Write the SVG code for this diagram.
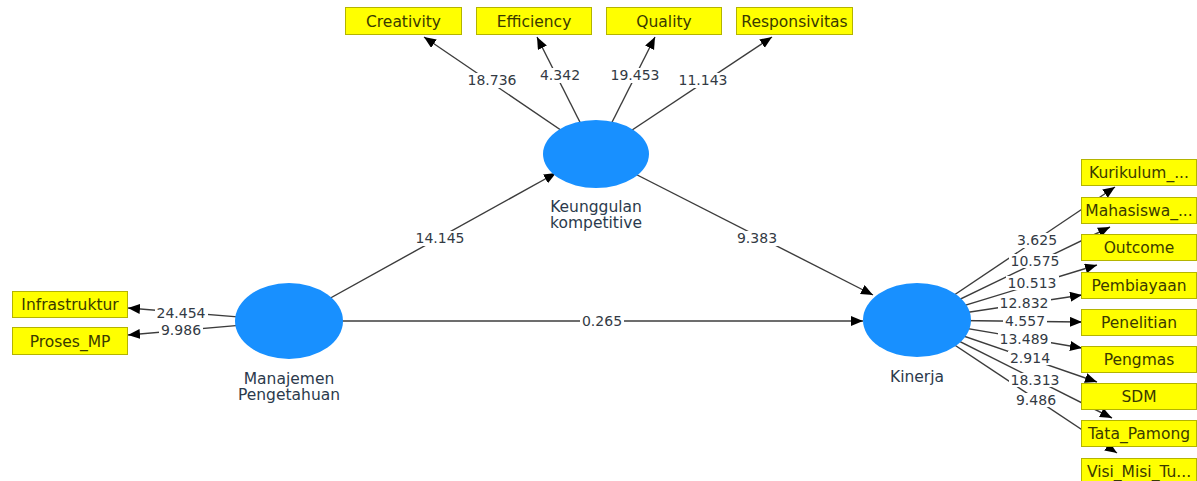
<svg xmlns="http://www.w3.org/2000/svg" width="1197" height="481" viewBox="0 0 1197 481">
<defs>
<marker id="ah" markerUnits="userSpaceOnUse" markerWidth="13" markerHeight="11" refX="12" refY="5" orient="auto">
<path d="M0,0 L12,5 L0,10 z" fill="#000"/>
</marker>
<style>
.c line{stroke:#3c3c3c;stroke-width:1.4;marker-end:url(#ah);}
.box{fill:#ffff00;stroke:#b4b400;stroke-width:1;}
.bt{font-family:"DejaVu Sans",sans-serif;font-size:15.5px;fill:#3a3a00;text-anchor:middle;}
.lv{fill:#1890ff;}
.nl{font-family:"DejaVu Sans",sans-serif;font-size:15.5px;fill:#2b3a4c;text-anchor:middle;}
.num{font-family:"DejaVu Sans",sans-serif;font-size:14px;fill:#333a44;text-anchor:middle;}
.bg{fill:#fff;}
</style>
</defs>
<rect width="1197" height="481" fill="#fff"/>
<g id="connectors" class="c">
<line x1="596" y1="154" x2="424" y2="37"/>
<line x1="596" y1="154" x2="537" y2="37"/>
<line x1="596" y1="154" x2="655" y2="37"/>
<line x1="596" y1="154" x2="772" y2="37"/>
<line x1="289" y1="321" x2="128" y2="308"/>
<line x1="289" y1="321" x2="128" y2="335"/>
<line x1="289" y1="321" x2="556" y2="173"/>
<line x1="596" y1="154" x2="873" y2="295"/>
<line x1="289" y1="321" x2="863" y2="321"/>
<line x1="917" y1="320" x2="1115" y2="187"/>
<line x1="917" y1="320" x2="1110" y2="227"/>
<line x1="917" y1="320" x2="1097" y2="265"/>
<line x1="917" y1="320" x2="1082" y2="295"/>
<line x1="917" y1="320" x2="1082" y2="322"/>
<line x1="917" y1="320" x2="1082" y2="348"/>
<line x1="917" y1="320" x2="1097" y2="382"/>
<line x1="917" y1="320" x2="1112" y2="418"/>
<line x1="917" y1="320" x2="1117" y2="453"/>
</g>
<g id="connector-labels">
<rect class="bg" x="466" y="73" width="53" height="15"/><text class="num" x="492" y="85">18.736</text>
<rect class="bg" x="538" y="68" width="44" height="15"/><text class="num" x="560" y="80">4.342</text>
<rect class="bg" x="609" y="68" width="53" height="15"/><text class="num" x="635" y="80">19.453</text>
<rect class="bg" x="677" y="73" width="53" height="15"/><text class="num" x="703" y="85">11.143</text>
<rect class="bg" x="155" y="306" width="53" height="14"/><text class="num" x="181" y="318">24.454</text>
<rect class="bg" x="159" y="322" width="44" height="15"/><text class="num" x="181" y="335">9.986</text>
<rect class="bg" x="414" y="231" width="53" height="15"/><text class="num" x="440" y="243">14.145</text>
<rect class="bg" x="735" y="231" width="44" height="15"/><text class="num" x="757" y="243">9.383</text>
<rect class="bg" x="580" y="314" width="44" height="15"/><text class="num" x="602" y="326">0.265</text>
<rect class="bg" x="1015" y="233" width="44" height="15"/><text class="num" x="1037" y="245">3.625</text>
<rect class="bg" x="1009" y="254" width="53" height="14"/><text class="num" x="1035" y="266">10.575</text>
<rect class="bg" x="1006" y="276" width="53" height="14"/><text class="num" x="1032" y="288">10.513</text>
<rect class="bg" x="998" y="296" width="53" height="14"/><text class="num" x="1024" y="308">12.832</text>
<rect class="bg" x="1003" y="314" width="44" height="14"/><text class="num" x="1025" y="326">4.557</text>
<rect class="bg" x="998" y="332" width="53" height="14"/><text class="num" x="1024" y="344">13.489</text>
<rect class="bg" x="1008" y="351" width="44" height="14"/><text class="num" x="1030" y="363">2.914</text>
<rect class="bg" x="1009" y="373" width="53" height="14"/><text class="num" x="1035" y="385">18.313</text>
<rect class="bg" x="1014" y="393" width="44" height="14"/><text class="num" x="1036" y="405">9.486</text>
</g>
<g id="keunggulan"><ellipse class="lv" cx="596" cy="154" rx="53" ry="34"/><text class="nl" x="596" y="212">Keunggulan</text><text class="nl" x="596" y="228">kompetitive</text></g>
<g id="manajemen"><ellipse class="lv" cx="289" cy="321" rx="54" ry="38"/><text class="nl" x="289" y="384">Manajemen</text><text class="nl" x="289" y="400">Pengetahuan</text></g>
<g id="kinerja"><ellipse class="lv" cx="917" cy="320" rx="54" ry="37"/><text class="nl" x="917" y="382">Kinerja</text></g>
<g id="creativity"><rect class="box" x="345.5" y="7.5" width="116" height="27"/><text class="bt" x="403.5" y="26.5">Creativity</text></g>
<g id="efficiency"><rect class="box" x="476.5" y="7.5" width="115" height="27"/><text class="bt" x="534" y="26.5">Efficiency</text></g>
<g id="quality"><rect class="box" x="606.5" y="7.5" width="115" height="27"/><text class="bt" x="664" y="26.5">Quality</text></g>
<g id="responsivitas"><rect class="box" x="736.5" y="7.5" width="116" height="27"/><text class="bt" x="794.5" y="26.5">Responsivitas</text></g>
<g id="infrastruktur"><rect class="box" x="12.5" y="291.5" width="115" height="26"/><text class="bt" x="70" y="310">Infrastruktur</text></g>
<g id="proses_mp"><rect class="box" x="12.5" y="327.5" width="115" height="27"/><text class="bt" x="70" y="346.5">Proses_MP</text></g>
<g id="kurikulum"><rect class="box" x="1081.5" y="159.5" width="115" height="26"/><text class="bt" x="1139" y="178">Kurikulum_...</text></g>
<g id="mahasiswa"><rect class="box" x="1081.5" y="197.5" width="115" height="26"/><text class="bt" x="1139" y="216">Mahasiswa_...</text></g>
<g id="outcome"><rect class="box" x="1081.5" y="234.5" width="115" height="26"/><text class="bt" x="1139" y="253">Outcome</text></g>
<g id="pembiayaan"><rect class="box" x="1081.5" y="272.5" width="115" height="26"/><text class="bt" x="1139" y="291">Pembiayaan</text></g>
<g id="penelitian"><rect class="box" x="1081.5" y="309.5" width="115" height="26"/><text class="bt" x="1139" y="328">Penelitian</text></g>
<g id="pengmas"><rect class="box" x="1081.5" y="346.5" width="115" height="26"/><text class="bt" x="1139" y="365">Pengmas</text></g>
<g id="sdm"><rect class="box" x="1081.5" y="383.5" width="115" height="26"/><text class="bt" x="1139" y="402">SDM</text></g>
<g id="tata_pamong"><rect class="box" x="1081.5" y="420.5" width="115" height="26"/><text class="bt" x="1139" y="439">Tata_Pamong</text></g>
<g id="visi"><rect class="box" x="1081.5" y="458.5" width="115" height="26"/><text class="bt" x="1139" y="477">Visi_Misi_Tu...</text></g>
</svg>
